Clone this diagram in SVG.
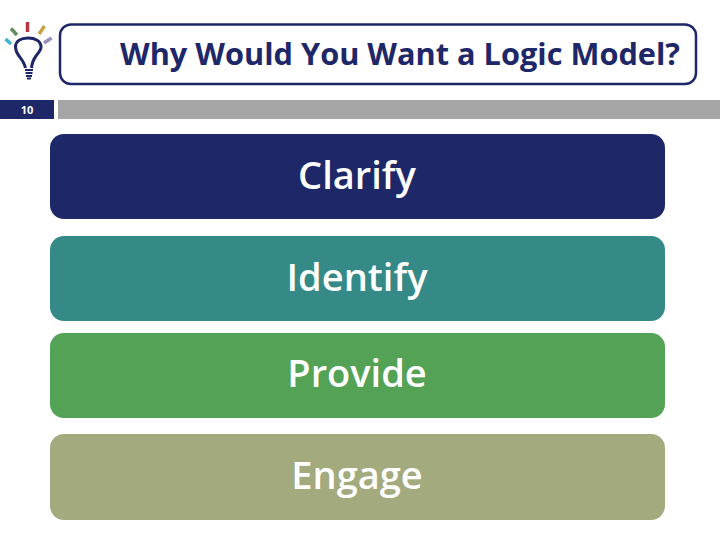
<svg xmlns="http://www.w3.org/2000/svg" width="720" height="540" viewBox="0 0 720 540">
<style>
text{font-family:"Open Sans",sans-serif;text-anchor:middle}
.t{font-size:38px;font-weight:600;fill:#fff}
.b{stroke-linecap:butt;stroke-width:3.500;fill:none}
</style>
<rect width="720" height="540" fill="#fff"/>
<g id="logo">
<path class="b" d="M27.500 22V32" stroke="#b5383f"/>
<path class="b" d="M11 28.500L17 35" stroke="#5f8f5a"/>
<path class="b" d="M44.500 26L39 34" stroke="#c9a243"/>
<path class="b" d="M5.500 39L11 44" stroke="#3fb3cf"/>
<path class="b" d="M51.500 38L44 43" stroke="#9b8dbb"/>
<path d="M25.500 68C24.500 63 22 60 19 56C16 52 15.500 50 15.500 47C15.500 41 21 38 28 38C35 38 41 41 41 47C41 50 39 52 36 56C33 60 32 63 31.500 68" fill="none" stroke="#1e2869" stroke-width="3"/>
<path d="M25 70H33M25.500 73H32.500M26 76H32M27 78.500H31" stroke="#1e2869" stroke-width="2.200" fill="none"/>
</g>
<g id="title">
<rect x="60" y="24.500" width="636" height="59.500" rx="11" fill="#fff" stroke="#1e2869" stroke-width="2.500"/>
<text x="400" y="65" font-size="31" font-weight="700" fill="#1e2869" textLength="560" lengthAdjust="spacingAndGlyphs">Why Would You Want a Logic Model?</text>
</g>
<g id="page">
<rect x="0" y="100" width="54" height="19" fill="#1e2869"/>
<text x="27" y="114" font-size="11" font-weight="700" fill="#fff">10</text>
</g>
<rect id="bar" x="58" y="100" width="662" height="19" fill="#a6a6a6"/>
<g id="clarify"><rect x="50" y="134" width="615" height="85" rx="14" fill="#1e2869"/><text class="t" x="357" y="189">Clarify</text></g>
<g id="identify"><rect x="50" y="236" width="615" height="85" rx="14" fill="#358a88"/><text class="t" x="357" y="291">Identify</text></g>
<g id="provide"><rect x="50" y="333" width="615" height="85" rx="14" fill="#53a256"/><text class="t" x="357" y="387">Provide</text></g>
<g id="engage"><rect x="50" y="434" width="615" height="86" rx="14" fill="#a3aa7e"/><text class="t" x="357" y="489">Engage</text></g>
</svg>
